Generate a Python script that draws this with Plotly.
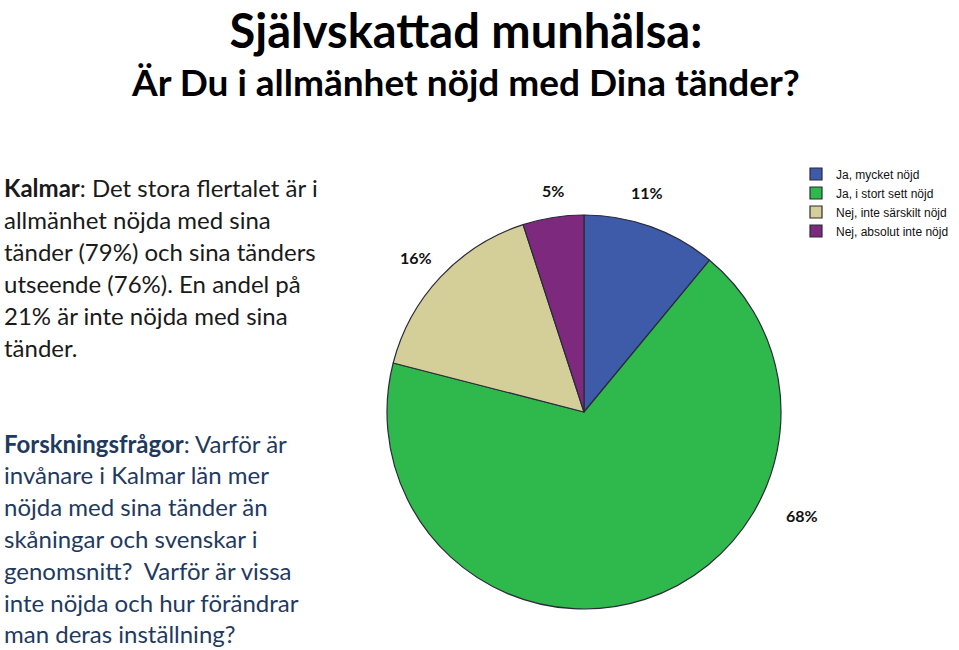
import plotly.graph_objects as go

categories = ["Ja, mycket nöjd", "Ja, i stort sett nöjd", "Nej, inte särskilt nöjd", "Nej, absolut inte nöjd"]
values = [11, 68, 16, 5]
colors = ["#3D5BA9", "#2FB84B", "#D4CF99", "#7D2A7E"]

title_text = "Självskattad munhälsa:"
subtitle_text = "Är Du i allmänhet nöjd med Dina tänder?"
block1_lines = ["<b>Kalmar</b>: Det stora flertalet är i", "allmänhet nöjda med sina",
                "tänder (79%) och sina tänders", "utseende (76%). En andel på",
                "21% är inte nöjda med sina", "tänder."]
block2_lines = ["<b>Forskningsfrågor</b>: Varför är", "invånare i Kalmar län mer",
                "nöjda med sina tänder än", "skåningar och svenskar i",
                "genomsnitt?  Varför är vissa", "inte nöjda och hur förändrar",
                "man deras inställning?"]
# label anchor positions (paper px) for the value labels, same order as categories
label_pos = [(647, 193), (802, 515), (416, 257), (553, 190)]

W, H = 959, 650
fig = go.Figure()
fig.add_trace(go.Pie(
    labels=categories, values=values, sort=False, direction="clockwise", rotation=0,
    marker=dict(colors=colors, line=dict(color="#2a2a3a", width=1.2)),
    textinfo="none", hoverinfo="label+percent",
    domain=dict(x=[387 / W, 781 / W], y=[1 - 609 / H, 1 - 215 / H]),
))

ann = []
heading = ("<b><span style='font-size:47px'>" + title_text + "</span><br>"
           + subtitle_text + "</b>")
ann.append(dict(text=heading, x=465 / W, y=1, xref="paper", yref="paper",
                xanchor="center", yanchor="top", showarrow=False, align="center",
                font=dict(family="Lato", size=37, color="#000000")))
for i, line in enumerate(block1_lines):
    ann.append(dict(text=line, x=2 / W, y=1 - (188 + i * 31.8) / H, xref="paper", yref="paper",
                    xanchor="left", yanchor="middle", showarrow=False,
                    font=dict(family="Lato", size=24, color="#1a1a1a")))
for i, line in enumerate(block2_lines):
    ann.append(dict(text=line, x=2 / W, y=1 - (443 + i * 31.8) / H, xref="paper", yref="paper",
                    xanchor="left", yanchor="middle", showarrow=False,
                    font=dict(family="Lato", size=24, color="#1F3A5F")))
for v, (px, py) in zip(values, label_pos):
    ann.append(dict(text="<b>%d%%</b>" % v, x=px / W, y=1 - py / H, xref="paper", yref="paper",
                    xanchor="center", yanchor="middle", showarrow=False,
                    font=dict(family="Lato", size=16, color="#111111")))

fig.update_layout(
    width=W, height=H, autosize=False,
    margin=dict(l=0, r=0, t=0, b=0, autoexpand=False),
    paper_bgcolor="white", plot_bgcolor="white",
    annotations=ann,
    legend=dict(x=796 / W, y=1 - 159.5 / H, xanchor="left", yanchor="top",
                bgcolor="rgba(0,0,0,0)", font=dict(family="Liberation Sans", size=12, color="#111"),
                tracegroupgap=0, itemwidth=30),
)
fig.write_html("out.html", config={"responsive": False})
